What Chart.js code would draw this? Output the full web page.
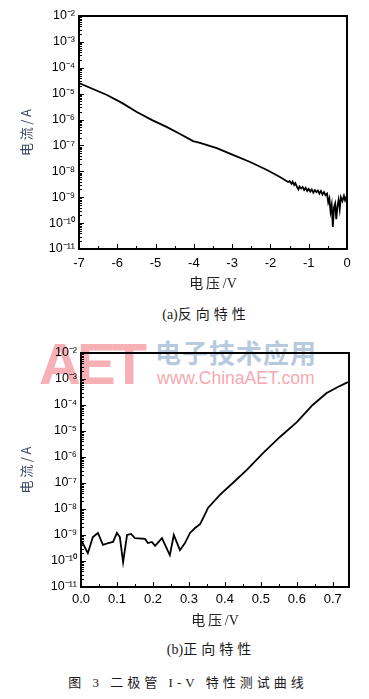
<!DOCTYPE html>
<html>
<head>
<meta charset="utf-8">
<script src="https://cdn.jsdelivr.net/npm/chart.js@4.4.1/dist/chart.umd.min.js"></script>
<style>
  body { margin: 0; background: #fff; }
  #page { position: relative; width: 369px; height: 699px; overflow: hidden; font-family: 'Liberation Serif', 'Noto Sans CJK SC', serif; }
  canvas { position: absolute; left: 0; z-index: 2; }
  #c1 { top: 0; }
  #c2 { top: 330px; }
  .cap { position: absolute; white-space: nowrap; transform: translate(-50%, -50%); color: #1a1a1a; font-size: 14px; letter-spacing: 4px; line-height: 1; }
  .wm { position: absolute; white-space: nowrap; line-height: 1; z-index: 1; }
</style>
</head>
<body>
<div id="page">
  <div class="wm" style="left:39px;top:330px;font:bold 58px 'Liberation Sans',sans-serif;color:#f7b0b6;letter-spacing:-4px">AET</div>
  <div class="wm" style="left:155px;top:333px;font:bold 26px 'Noto Sans CJK SC',sans-serif;color:#b6c9dd;letter-spacing:1px">电子技术应用</div>
  <div class="wm" style="left:157px;top:368px;font:17.5px 'Liberation Sans',sans-serif;color:#f6a9b0">www.ChinaAET.com</div>

  <canvas id="c1" width="369" height="300"></canvas>
  <canvas id="c2" width="369" height="310"></canvas>

  <div class="cap" style="left:206px;top:315px"><span style="letter-spacing:0">(a)</span>反向特性</div>
  <div class="cap" style="left:211px;top:650px"><span style="letter-spacing:0">(b)</span>正向特性</div>
  <div class="cap" style="left:188px;top:682px;font-size:13px;letter-spacing:4px">图 3 二极管 I-V 特性测试曲线</div>
</div>

<script>
// reverse characteristic, V and A
const revVolts = [-7.0, -6.27, -5.88, -5.49, -5.09, -4.70, -4.36, -4.02, -3.84, -3.40, -2.98, -2.53, -2.09, -1.75, -1.54,
  -1.50, -1.45, -1.42, -1.38, -1.35, -1.30, -1.27, -1.24, -1.20, -1.16,
  -1.12, -1.08, -1.04, -1.00, -0.96, -0.92, -0.88, -0.84, -0.80, -0.76,
  -0.72, -0.68, -0.64, -0.60, -0.56, -0.52, -0.49, -0.46, -0.43, -0.40,
  -0.37, -0.34, -0.31, -0.28, -0.25, -0.22, -0.19, -0.16, -0.12, -0.08,
  -0.05, -0.02, 0.00];
const revAmps = [2.57e-5, 8.9e-6, 4.4e-6, 1.95e-6, 9.5e-7, 5.1e-7, 2.75e-7, 1.48e-7, 1.26e-7, 7.9e-8, 4.3e-8, 2.3e-8, 1.12e-8, 6.0e-9, 3.9e-9,
  4.2e-9, 3.3e-9, 4.0e-9, 3.0e-9, 3.5e-9, 2.4e-9, 2.0e-9, 2.6e-9, 2.2e-9, 2.5e-9,
  1.9e-9, 2.3e-9, 1.74e-9, 2.1e-9, 1.66e-9, 2.0e-9, 1.51e-9, 1.9e-9, 1.58e-9, 1.82e-9,
  1.38e-9, 1.74e-9, 1.26e-9, 1.58e-9, 1.2e-9, 1.38e-9, 6.3e-10, 8.9e-10, 2.8e-10, 5.0e-10,
  7.1e-11, 4.0e-10, 5.6e-10, 1.41e-10, 4.5e-10, 7.9e-10, 3.5e-10, 1.0e-9, 7.1e-10, 1.12e-9,
  7.6e-10, 1.0e-9, 8.9e-10];

// forward characteristic
const fwdVolts = [0.003, 0.019, 0.033, 0.047, 0.061, 0.075, 0.089, 0.100, 0.108, 0.117,
  0.128, 0.139, 0.150, 0.178, 0.186, 0.197, 0.206, 0.225, 0.247, 0.258,
  0.275, 0.289, 0.303, 0.317, 0.331, 0.344, 0.353, 0.386, 0.422, 0.461,
  0.506, 0.553, 0.600, 0.644, 0.683, 0.714, 0.742];
const fwdAmps = [5.4e-10, 2.0e-10, 8.3e-10, 1.2e-9, 4.2e-10, 4.9e-10, 5.4e-10, 1.2e-9, 8.3e-10, 9.1e-11,
  1.0e-9, 1.1e-9, 7.6e-10, 7.1e-10, 4.9e-10, 5.4e-10, 3.8e-10, 7.6e-10, 1.7e-10, 1.0e-9,
  2.6e-10, 4.9e-10, 1.2e-9, 1.86e-9, 2.6e-9, 5.9e-9, 1.1e-8, 3.5e-8, 1.0e-7, 3.2e-7,
  1.4e-6, 5.9e-6, 2.2e-5, 1.0e-4, 2.9e-4, 4.9e-4, 7.6e-4];

// axes
const yDecades = [1e-11, 1e-10, 1e-9, 1e-8, 1e-7, 1e-6, 1e-5, 1e-4, 1e-3, 1e-2];
const revXTicks = [-7, -6, -5, -4, -3, -2, -1, 0];
const revXMinor = [-6.5, -5.5, -4.5, -3.5, -2.5, -1.5, -0.5];
const fwdXTicks = [0, 0.1, 0.2, 0.3, 0.4, 0.5, 0.6, 0.7];
const fwdXMinor = [0.05, 0.15, 0.25, 0.35, 0.45, 0.55, 0.65];

const supMap = { '-': '\u207B', '0': '\u2070', '1': '\u00B9', '2': '\u00B2', '3': '\u00B3', '4': '\u2074', '5': '\u2075', '6': '\u2076', '7': '\u2077', '8': '\u2078', '9': '\u2079' };
function powLabel(v) {
  const e = String(Math.round(Math.log10(v)));
  return '10' + e.split('').map(c => supMap[c]).join('');
}

// frame box + inward ticks, like the origin-style plot
const frameTicks = {
  id: 'frameTicks',
  afterDatasetsDraw(chart, args, opts) {
    const { ctx, chartArea: a, scales: { x, y } } = chart;
    ctx.save();
    ctx.strokeStyle = '#000';
    ctx.lineWidth = 1;
    ctx.beginPath();
    yDecades.forEach(d => {
      const py = Math.round(y.getPixelForValue(d)) + 0.5;
      ctx.moveTo(a.left, py); ctx.lineTo(a.left + 5, py);
      if (d < 1e-2) {
        for (let k = 2; k < 10; k++) {
          const my = Math.round(y.getPixelForValue(d * k)) + 0.5;
          ctx.moveTo(a.left, my); ctx.lineTo(a.left + 3, my);
        }
      }
    });
    opts.major.forEach(v => {
      const px = Math.round(x.getPixelForValue(v)) + 0.5;
      ctx.moveTo(px, a.bottom); ctx.lineTo(px, a.bottom - 5);
    });
    opts.minor.forEach(v => {
      const px = Math.round(x.getPixelForValue(v)) + 0.5;
      ctx.moveTo(px, a.bottom); ctx.lineTo(px, a.bottom - 3);
    });
    ctx.stroke();
    ctx.lineWidth = 2;
    ctx.strokeRect(a.left, a.top, a.right - a.left, a.bottom - a.top);
    ctx.restore();
  }
};

function makeChart(id, volts, amps, cfg) {
  return new Chart(document.getElementById(id), {
    type: 'line',
    data: {
      datasets: [{
        data: volts.map((v, i) => ({ x: v, y: amps[i] })),
        borderColor: '#000',
        borderWidth: 1.8,
        pointRadius: 0,
        tension: 0,
        fill: false
      }]
    },
    options: {
      responsive: false,
      animation: false,
      layout: { padding: cfg.padding },
      plugins: {
        legend: { display: false },
        tooltip: { enabled: false },
        frameTicks: { major: cfg.xTicks, minor: cfg.xMinor }
      },
      scales: {
        x: {
          type: 'linear',
          min: cfg.xMin,
          max: cfg.xMax,
          afterBuildTicks: s => { s.ticks = cfg.xTicks.map(v => ({ value: v })); },
          afterFit: s => { s.height = cfg.xHeight; },
          grid: { display: false, drawTicks: false, tickLength: 0 },
          border: { display: false },
          ticks: {
            padding: cfg.xPad,
            maxRotation: 0,
            autoSkip: false,
            color: '#000',
            font: { family: "'Liberation Sans', Arial, sans-serif", size: 13 },
            callback: v => cfg.xFmt(v)
          },
          title: {
            display: true,
            text: '电\u2009压\u2009/V',
            color: '#222',
            font: { family: "'Liberation Serif', 'Noto Sans CJK SC', serif", size: 14 },
            padding: { top: 0, bottom: cfg.xTitlePad }
          }
        },
        y: {
          type: 'logarithmic',
          min: 1e-11,
          max: 1e-2,
          afterBuildTicks: s => { s.ticks = yDecades.map(v => ({ value: v })); },
          afterFit: s => { s.width = cfg.yWidth; },
          grid: { display: false, drawTicks: false, tickLength: 0 },
          border: { display: false },
          ticks: {
            padding: 4,
            autoSkip: false,
            color: '#000',
            font: { family: "'Liberation Sans', Arial, sans-serif", size: 12.5 },
            callback: v => powLabel(v)
          },
          title: {
            display: true,
            text: '电\u2009流\u2009/\u2009A',
            color: '#3c4a66',
            font: { family: "'Noto Sans CJK SC', sans-serif", size: 13 },
            padding: { top: 18, bottom: 0 }
          }
        }
      }
    },
    plugins: [frameTicks]
  });
}

makeChart('c1', revVolts, revAmps, {
  padding: { left: 0, top: 16, right: 22, bottom: 0 },
  xMin: -7, xMax: 0, xTicks: revXTicks, xMinor: revXMinor,
  xHeight: 51, yWidth: 79, xPad: 7, xTitlePad: 7,
  xFmt: v => String(v)
});

makeChart('c2', fwdVolts, fwdAmps, {
  padding: { left: 0, top: 23, right: 20, bottom: 0 },
  xMin: 0, xMax: 0.745, xTicks: fwdXTicks, xMinor: fwdXMinor,
  xHeight: 53, yWidth: 81, xPad: 5, xTitlePad: 10,
  xFmt: v => v.toFixed(1)
});
</script>
</body>
</html>
